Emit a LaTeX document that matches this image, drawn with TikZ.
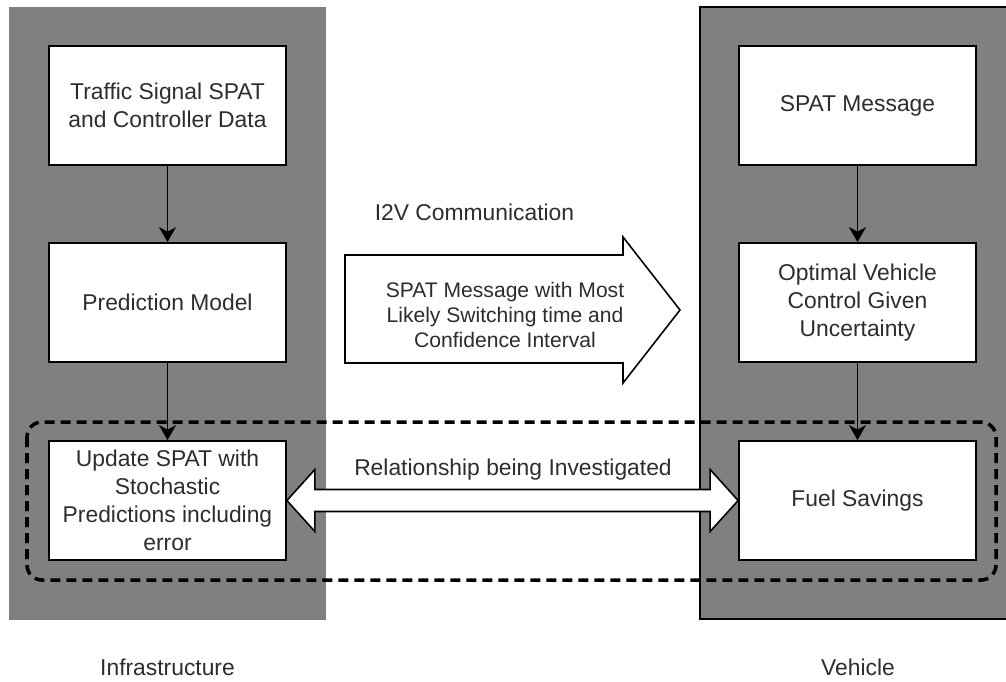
\documentclass[tikz,border=0pt]{standalone}
\usepackage{fontspec}
\setmainfont{Liberation Sans}
\usetikzlibrary{calc,arrows.meta}
\definecolor{panelgray}{RGB}{128,128,128}
\definecolor{txt}{RGB}{45,45,45}

\begin{document}
\begin{tikzpicture}[
  box/.style={draw=black, line width=1pt, fill=white, minimum width=4.74cm,
    minimum height=2.38cm, align=center, text=txt, inner ysep=0.5pt,
    font=\fontsize{13}{16}\selectfont},
  flow/.style={line width=1pt, -{Stealth[length=3mm,width=3.4mm,inset=0.9mm]}},
  lbl/.style={text=txt, align=center, font=\fontsize{13}{16}\selectfont}
]
\useasboundingbox (0,0) rectangle (20.12,-13.62);
%panels
\fill [panelgray] (0.18,-0.14) rectangle (6.52,-12.4);
\draw [fill=panelgray, line width=1pt] (20.4,-0.14) -- (14,-0.14) -- (14,-12.38) -- (20.4,-12.38);
%group of interest
\draw [line width=2pt, dash pattern=on 0.2cm off 0.12cm, rounded corners=0.3cm]
  (0.54,-8.44) rectangle (19.92,-11.6);
%infrastructure side
\node [box] (traffic) at (3.35,-2.11) {Traffic Signal SPAT\\and Controller Data};
\node [box] (predict) at (3.35,-6.05) {Prediction Model};
\node [box] (update) at (3.35,-10.01) {Update SPAT with\\Stochastic\\Predictions including\\error};
%vehicle side
\node [box] (spat) at (17.15,-2.11) {SPAT Message};
\node [box] (optimal) at (17.15,-6.05) {Optimal Vehicle\\Control Given\\Uncertainty};
\node [box] (fuel) at (17.15,-10.01) {Fuel Savings};
%flow
\draw [flow] (traffic.south) -- (predict.north);
\draw [flow] (predict.south) -- (update.north);
\draw [flow] (spat.south) -- (optimal.north);
\draw [flow] (optimal.south) -- (fuel.north);
%I2V arrow
\draw [line width=0.9pt, fill=white] (6.9,-5.1) -- (12.46,-5.1) -- (12.46,-4.74) -- (13.6,-6.2)
  -- (12.46,-7.66) -- (12.46,-7.26) -- (6.9,-7.26) -- cycle;
\node [lbl] (comm) at (9.49,-4.24) {I2V Communication};
\node [lbl, font=\fontsize{12}{14.3}\selectfont] (msg) at (10.1,-6.3)
  {SPAT Message with Most\\Likely Switching time and\\Confidence Interval};
%relationship
\draw [line width=0.9pt, fill=white] (update.east) -- ++(0.56,0.62) -- ++(0,-0.4)
  -- ($(fuel.west)+(-0.56,0.22)$) -- ++(0,0.4) -- (fuel.west) -- ++(-0.56,-0.62)
  -- ++(0,0.4) -- ($(update.east)+(0.56,-0.22)$) -- ++(0,-0.4) -- cycle;
\node [lbl] (rel) at (10.26,-9.4) {Relationship being Investigated};
%captions
\node [lbl] (infra) at (3.35,-13.34) {Infrastructure};
\node [lbl] (veh) at (17.16,-13.34) {Vehicle};
\end{tikzpicture}
\end{document}
